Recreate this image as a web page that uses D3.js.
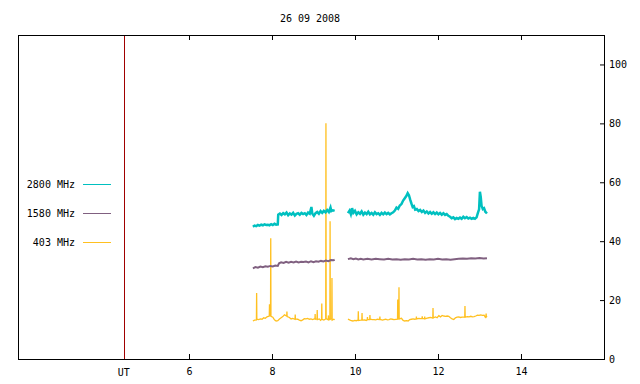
<!DOCTYPE html>
<html>
<head>
<meta charset="utf-8">
<script src="https://cdn.jsdelivr.net/npm/d3@7"></script>
<style>
  body { margin: 0; background: #fff; }
  text { font-family: "DejaVu Sans Mono", monospace; font-size: 10px; fill: #000; }
</style>
</head>
<body>
<div id="chart"></div>
<script>
// chart values (hours UT, value)
const title = "26 09 2008";
const xTicks = [6, 8, 10, 12, 14];
const yTicks = [0, 20, 40, 60, 80, 100];
const utMark = 4.43;

const seriesNames = ["2800 MHz", "1580 MHz", "403 MHz"];
const seriesColors = ["#00c0c0", "#806080", "#ffc020"];
const seriesWidths = [2.5, 2, 1.3];

// null entry marks the data gap
const s2800 = [
  [7.54,44.9],[7.58,45.3],[7.62,45.1],[7.66,45.5],[7.70,45.3],[7.74,45.6],[7.78,45.4],[7.82,45.7],
  [7.86,45.5],[7.90,45.6],[7.94,45.4],[7.98,45.8],[8.02,45.5],[8.06,45.9],[8.10,45.6],[8.14,45.7],
  [8.15,49.0],[8.19,49.4],[8.23,48.9],[8.27,49.5],[8.31,49.1],[8.35,49.7],[8.39,48.8],[8.43,49.4],
  [8.47,49.0],[8.51,49.6],[8.55,48.7],[8.59,49.3],[8.63,49.5],[8.67,49.0],[8.71,49.6],[8.75,49.2],
  [8.79,49.5],[8.83,48.9],[8.87,49.7],[8.91,49.3],[8.95,51.6],[8.97,49.4],[9.01,48.6],[9.05,49.5],
  [9.09,49.9],[9.13,49.3],[9.17,50.2],[9.21,49.6],[9.25,50.3],[9.29,49.8],[9.33,50.6],[9.37,49.9],
  [9.41,51.4],[9.43,50.2],[9.47,50.5],[9.51,50.3],
  null,
  [9.83,49.5],[9.87,50.4],[9.90,49.2],[9.93,51.2],[9.96,49.6],[10.00,50.3],[10.04,49.1],[10.08,49.8],
  [10.12,49.3],[10.16,50.1],[10.20,49.0],[10.24,49.7],[10.28,49.2],[10.32,50.0],[10.36,49.1],[10.40,49.6],
  [10.44,49.0],[10.48,49.8],[10.52,49.2],[10.56,49.5],[10.60,48.9],[10.64,49.6],[10.68,49.1],[10.72,49.7],
  [10.76,49.2],[10.80,49.6],[10.84,49.1],[10.88,49.5],[10.92,49.8],[10.96,50.4],[11.00,51.4],[11.04,51.0],
  [11.08,52.1],[11.12,52.6],[11.16,53.8],[11.20,54.6],[11.24,55.4],[11.27,56.3],[11.30,55.6],[11.33,54.1],
  [11.36,52.8],[11.39,51.6],[11.42,51.9],[11.45,50.7],[11.49,50.9],[11.53,50.2],[11.57,50.6],[11.61,49.9],
  [11.65,50.4],[11.69,49.6],[11.73,50.1],[11.77,49.4],[11.81,49.9],[11.85,49.3],[11.89,49.8],[11.93,49.2],
  [11.97,49.7],[12.01,49.1],[12.05,49.6],[12.09,49.0],[12.13,49.5],[12.17,48.9],[12.21,49.2],[12.25,48.6],
  [12.29,48.3],[12.33,47.8],[12.37,48.1],[12.41,47.5],[12.45,47.9],[12.49,47.6],[12.53,48.0],[12.57,47.6],
  [12.61,48.3],[12.65,47.8],[12.69,48.2],[12.73,47.7],[12.77,48.0],[12.81,47.6],[12.85,47.9],[12.89,47.6],
  [12.93,48.1],[12.96,49.5],[12.99,50.8],[13.01,56.8],[13.03,55.0],[13.05,52.0],[13.08,50.9],[13.11,51.2],
  [13.14,50.0],[13.18,49.4]
];

const s1580 = [
  [7.54,30.8],[7.60,31.2],[7.66,31.0],[7.72,31.4],[7.78,31.2],[7.84,31.5],[7.90,31.3],[7.96,31.6],
  [8.02,31.4],[8.08,31.7],[8.14,31.6],[8.17,32.5],[8.22,32.8],[8.28,32.6],[8.34,33.0],[8.40,32.7],
  [8.46,33.0],[8.52,32.8],[8.58,33.1],[8.64,32.8],[8.70,33.0],[8.76,32.9],[8.82,33.1],[8.88,32.8],
  [8.94,33.2],[9.00,32.9],[9.06,33.2],[9.12,33.0],[9.18,33.3],[9.24,33.1],[9.30,33.4],[9.36,33.2],
  [9.42,33.6],[9.48,33.5],[9.51,33.7],
  null,
  [9.83,33.9],[9.90,34.2],[9.96,33.9],[10.02,34.1],[10.08,33.8],[10.14,34.0],[10.20,33.8],[10.30,34.0],
  [10.40,33.8],[10.50,34.0],[10.60,33.9],[10.70,33.8],[10.80,34.0],[10.90,33.8],[11.00,33.9],[11.10,33.7],
  [11.20,33.9],[11.30,33.8],[11.40,34.0],[11.50,33.8],[11.60,33.9],[11.70,33.7],[11.80,33.9],[11.90,33.8],
  [12.00,34.0],[12.10,33.8],[12.20,33.9],[12.30,33.7],[12.40,33.9],[12.50,34.0],[12.60,34.1],[12.70,34.0],
  [12.80,34.2],[12.90,34.1],[13.00,34.3],[13.10,34.1],[13.18,34.2]
];

const s403 = [
  [7.54,12.9],[7.58,13.2],[7.625,13.3],[7.63,22.4],[7.635,13.5],[7.68,13.4],[7.72,13.6],[7.76,13.5],
  [7.80,14.0],[7.84,13.8],[7.88,14.3],[7.935,14.6],[7.94,18.6],[7.945,14.8],[7.965,14.7],[7.97,41.0],
  [7.975,14.5],[8.02,14.2],[8.06,13.3],[8.10,12.9],[8.14,13.0],[8.18,13.6],[8.22,14.0],[8.26,14.4],
  [8.30,15.0],[8.355,14.6],[8.36,16.1],[8.365,14.4],[8.42,14.1],[8.46,13.6],[8.50,13.8],[8.555,13.5],
  [8.56,15.1],[8.565,13.6],[8.62,13.5],[8.66,13.2],[8.70,13.0],[8.74,13.3],[8.78,13.7],[8.82,13.6],
  [8.86,13.8],[8.90,13.5],[8.94,13.6],[8.98,13.4],[9.035,13.7],[9.04,15.3],[9.045,13.5],[9.085,13.6],
  [9.09,16.6],[9.095,13.4],[9.14,13.6],[9.17,13.1],[9.195,13.4],[9.20,18.8],[9.205,13.5],[9.25,13.2],
  [9.295,13.6],[9.30,80.0],[9.305,13.7],[9.34,13.4],[9.355,13.5],[9.36,14.8],[9.365,13.3],[9.395,13.4],
  [9.40,46.8],[9.405,13.6],[9.44,13.5],[9.445,27.5],[9.45,13.2],[9.49,13.5],[9.51,13.3],
  null,
  [9.83,13.5],[9.87,13.3],[9.91,13.0],[9.95,12.9],[9.99,13.1],[10.03,13.0],[10.075,13.2],[10.08,16.2],
  [10.085,13.1],[10.14,13.2],[10.165,13.3],[10.17,15.6],[10.175,13.2],[10.23,13.3],[10.27,13.1],[10.295,13.3],
  [10.30,14.2],[10.305,13.4],[10.355,13.4],[10.36,14.9],[10.365,13.5],[10.42,13.4],[10.46,13.4],[10.50,13.3],
  [10.54,13.5],[10.595,13.4],[10.60,14.4],[10.605,13.5],[10.66,13.2],[10.70,13.4],[10.74,13.5],[10.78,13.3],
  [10.82,13.4],[10.86,13.6],[10.90,13.5],[10.94,13.4],[11.025,13.5],[11.03,20.2],[11.035,13.8],[11.055,13.6],
  [11.06,24.4],[11.065,13.6],[11.12,13.8],[11.16,13.1],[11.20,12.9],[11.24,13.0],[11.28,12.9],[11.32,13.4],
  [11.36,13.5],[11.40,13.6],[11.44,13.5],[11.475,13.6],[11.48,14.4],[11.485,13.6],[11.54,13.8],[11.58,13.7],
  [11.615,13.8],[11.62,14.5],[11.625,13.8],[11.675,13.7],[11.68,14.4],[11.685,13.6],[11.74,13.9],[11.78,14.0],
  [11.82,14.1],[11.875,13.9],[11.88,17.3],[11.885,14.0],[11.94,14.3],[11.98,14.0],[12.02,14.7],[12.06,14.3],
  [12.10,14.8],[12.14,14.6],[12.18,14.5],[12.22,14.6],[12.26,14.5],[12.30,14.0],[12.34,13.6],[12.38,13.4],
  [12.42,14.0],[12.46,14.2],[12.50,14.3],[12.54,14.1],[12.58,14.2],[12.645,14.3],[12.65,18.0],[12.655,14.2],
  [12.71,14.4],[12.75,14.3],[12.79,14.5],[12.83,14.3],[12.87,14.4],[12.91,14.6],[12.95,14.9],[12.99,14.8],
  [13.03,15.0],[13.07,14.8],[13.11,14.9],[13.14,14.2],[13.155,14.4],[13.16,15.4],[13.165,14.3],[13.18,14.6]
];

const allSeries = [s2800, s1580, s403];

const width = 640, height = 384;
const mLeft = 18, mRight = 604, mTop = 35, mBottom = 359;

const svg = d3.select("#chart").append("svg")
    .attr("width", width)
    .attr("height", height);

svg.append("rect").attr("width", width).attr("height", height).attr("fill", "#fff");

const x = d3.scaleLinear().domain([1.88, 16]).range([mLeft, mRight]);
const y = d3.scaleLinear().domain([0, 110]).range([mBottom, mTop]);

// title
svg.append("text")
    .attr("x", 310).attr("y", 22)
    .attr("text-anchor", "middle")
    .text(title);

// bottom + top ticks (inward)
const xAxis = svg.append("g")
    .attr("transform", `translate(0,${mBottom})`)
    .call(d3.axisBottom(x).tickValues(xTicks).tickSizeInner(-5).tickSizeOuter(0).tickPadding(9));
xAxis.select(".domain").remove();
xAxis.selectAll("line").attr("stroke", "#000");
xAxis.selectAll("text").style("font-family", "DejaVu Sans Mono").style("font-size", "10px");

const xTop = svg.append("g")
    .attr("transform", `translate(0,${mTop})`)
    .call(d3.axisTop(x).tickValues(xTicks).tickSizeInner(-5).tickSizeOuter(0).tickFormat(""));
xTop.select(".domain").remove();

// right axis
const yAxis = svg.append("g")
    .attr("transform", `translate(${mRight},0)`)
    .call(d3.axisRight(y).tickValues(yTicks).tickSizeInner(-4).tickSizeOuter(0).tickPadding(5));
yAxis.select(".domain").remove();
yAxis.selectAll("text").style("font-family", "DejaVu Sans Mono").style("font-size", "10px");

// UT marker
svg.append("line")
    .attr("x1", Math.round(x(utMark)) + 0.5).attr("x2", Math.round(x(utMark)) + 0.5)
    .attr("y1", mTop).attr("y2", mBottom)
    .attr("stroke", "#a00000").attr("stroke-width", 1);
svg.append("text")
    .attr("x", x(utMark)).attr("y", mBottom + 17)
    .attr("text-anchor", "middle")
    .text("UT");

// series lines (403 drawn first, 2800 on top)
const line = d3.line()
    .defined(d => d !== null)
    .x(d => x(d[0]))
    .y(d => y(d[1]));

svg.append("g").selectAll("path")
    .data([2, 1, 0])
    .enter().append("path")
    .attr("d", i => line(allSeries[i]))
    .attr("fill", "none")
    .attr("stroke-linejoin", "miter")
    .attr("stroke-width", i => seriesWidths[i])
    .attr("stroke", i => seriesColors[i]);

// frame
svg.append("rect")
    .attr("x", mLeft + 0.5).attr("y", mTop + 0.5)
    .attr("width", mRight - mLeft).attr("height", mBottom - mTop)
    .attr("fill", "none").attr("stroke", "#000").attr("stroke-width", 1);

// legend
const legend = svg.append("g").selectAll("g")
    .data(seriesNames)
    .enter().append("g")
    .attr("transform", (d, i) => `translate(0,${184 + i * 29})`);

legend.append("text")
    .attr("x", 75).attr("dy", "0.35em")
    .attr("text-anchor", "end")
    .text(d => d);

legend.append("line")
    .attr("x1", 83).attr("x2", 111)
    .attr("y1", 0.5).attr("y2", 0.5)
    .attr("stroke", (d, i) => seriesColors[i])
    .attr("stroke-width", 1);
</script>
</body>
</html>
